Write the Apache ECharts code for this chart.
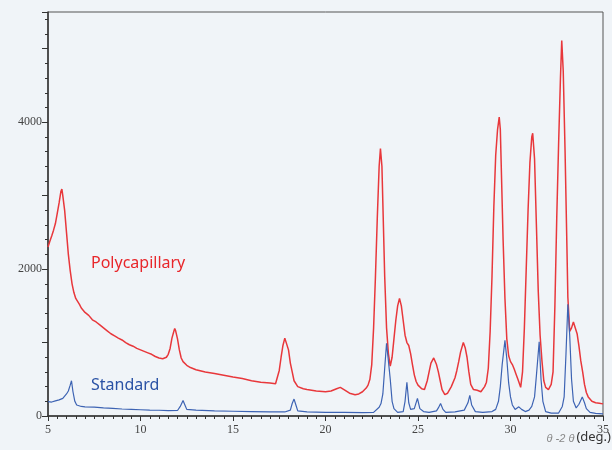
<!DOCTYPE html>
<html>
<head>
<meta charset="utf-8">
<script src="https://cdn.jsdelivr.net/npm/echarts@6/dist/echarts.min.js"></script>
<style>
  html, body { margin: 0; padding: 0; background: #f0f4f8; }
  #chart { width: 612px; height: 450px; }
</style>
</head>
<body>
<div id="chart"></div>
<script>
// 2theta (deg) / counts
var polyAngle = [5.0, 5.1, 5.2, 5.3, 5.4, 5.5, 5.6, 5.7, 5.75, 5.8, 5.9, 6.0, 6.1, 6.2, 6.3, 6.4, 6.5, 6.6, 6.7, 6.8, 6.9,
  7.0, 7.2, 7.4, 7.6, 7.8, 8.0, 8.2, 8.4, 8.6, 8.8, 9.0, 9.2, 9.4, 9.6, 9.8, 10.0, 10.2, 10.4, 10.6, 10.8, 11.0, 11.2,
  11.4, 11.5, 11.6, 11.7, 11.8, 11.85, 11.9, 12.0, 12.1, 12.2, 12.3, 12.5, 12.7, 13.0, 13.5, 14.0, 14.5, 15.0, 15.5,
  16.0, 16.5, 17.0, 17.3, 17.5, 17.6, 17.7, 17.8, 17.85, 17.9, 18.0, 18.1, 18.2, 18.3, 18.5, 18.8, 19.0, 19.5, 20.0,
  20.3, 20.6, 20.8, 21.0, 21.3, 21.6, 21.8, 22.0, 22.2, 22.3, 22.4, 22.5, 22.6, 22.7, 22.8, 22.9, 22.97, 23.05, 23.1,
  23.2, 23.3, 23.4, 23.5, 23.6, 23.7, 23.8, 23.9, 24.0, 24.1, 24.2, 24.3, 24.4, 24.5, 24.6, 24.7, 24.8, 24.9, 25.0,
  25.2, 25.35, 25.5, 25.6, 25.7, 25.85, 26.0, 26.1, 26.2, 26.3, 26.45, 26.6, 26.8, 27.0, 27.1, 27.2, 27.3, 27.45,
  27.55, 27.65, 27.75, 27.85, 28.0, 28.2, 28.4, 28.6, 28.7, 28.8, 28.9, 29.0, 29.1, 29.2, 29.3, 29.39, 29.45, 29.5,
  29.6, 29.7, 29.8, 29.9, 30.0, 30.1, 30.2, 30.3, 30.4, 30.55, 30.65, 30.75, 30.85, 30.95, 31.05, 31.15, 31.2, 31.3,
  31.4, 31.5, 31.6, 31.7, 31.8, 31.9, 32.05, 32.2, 32.3, 32.4, 32.5, 32.6, 32.7, 32.77, 32.85, 32.95, 33.05, 33.1,
  33.2, 33.3, 33.4, 33.5, 33.6, 33.7, 33.8, 33.9, 34.0, 34.1, 34.2, 34.4, 34.6, 34.8, 35.0];
var polyCounts = [2300, 2380, 2450, 2530, 2620, 2760, 2900, 3060, 3090, 3000, 2800, 2500, 2200, 1980, 1800, 1680, 1600, 1560, 1520, 1470, 1440,
  1410, 1370, 1310, 1280, 1240, 1200, 1160, 1120, 1090, 1060, 1035, 1000, 970, 950, 920, 900, 880, 860, 840, 810, 790, 780,
  800, 840, 920, 1060, 1150, 1190, 1160, 1050, 900, 790, 740, 690, 660, 630, 600, 580, 555, 530, 510,
  480, 460, 450, 440, 620, 800, 960, 1060, 1080, 1040, 900, 720, 600, 480, 400, 370, 360, 340, 330,
  340, 370, 390, 360, 310, 290, 300, 330, 380, 420, 500, 700, 1200, 1900, 2700, 3400, 3640, 3400, 2900,
  1900, 1200, 850, 680, 800, 1050, 1300, 1500, 1600, 1500, 1300, 1100, 1000, 960, 850, 700, 560, 470, 420,
  370, 360, 480, 600, 720, 790, 700, 600, 480, 360, 290, 310, 400, 520, 620, 740, 870, 1000,
  930, 800, 600, 430, 360, 350, 330, 400, 460, 650, 1150, 1900, 2850, 3550, 3900, 4070, 3900, 3400,
  2400, 1600, 1050, 820, 740, 700, 640, 570, 500, 390, 600, 1200, 2000, 2800, 3450, 3800, 3850, 3500,
  2600, 1700, 1100, 750, 480, 390, 360, 430, 600, 1500, 2700, 3700, 4600, 5110, 4700, 3600, 2300, 1620,
  1150, 1200, 1280, 1260, 1120, 950, 750, 600, 430, 320, 260, 200, 180, 175, 165];

var stdAngle = [5.0, 5.2, 5.4, 5.6, 5.8, 5.9, 6.0, 6.1, 6.2, 6.27, 6.35, 6.45, 6.55, 6.8, 7.0, 7.5, 8.0, 8.5, 9.0, 9.5,
  10.0, 10.5, 11.0, 11.5, 12.0, 12.15, 12.3, 12.4, 12.5, 13.0, 14.0, 15.0, 16.0, 17.0, 17.8, 18.1, 18.2, 18.3, 18.4,
  18.5, 19.0, 20.0, 21.0, 22.0, 22.6, 22.9, 23.0, 23.1, 23.2, 23.3, 23.4, 23.5, 23.6, 23.7, 23.9, 24.2, 24.3, 24.4,
  24.5, 24.6, 24.8, 24.97, 25.1, 25.3, 25.6, 26.0, 26.1, 26.22, 26.35, 26.5, 27.0, 27.5, 27.7, 27.8, 27.9, 28.1, 28.5,
  29.0, 29.2, 29.35, 29.45, 29.55, 29.7, 29.8, 29.9, 30.0, 30.1, 30.25, 30.45, 30.6, 30.8, 31.0, 31.15, 31.3, 31.4,
  31.55, 31.65, 31.75, 31.9, 32.2, 32.6, 32.8, 32.9, 33.0, 33.1, 33.2, 33.3, 33.4, 33.55, 33.7, 33.88, 34.0, 34.1,
  34.3, 34.6, 35.0];
var stdCounts = [195, 190, 205, 220, 240, 270, 300, 340, 420, 480, 330, 200, 150, 130, 125, 120, 110, 105, 95, 90,
  85, 80, 78, 72, 75, 130, 210, 150, 90, 80, 70, 65, 60, 55, 55, 80, 170, 230, 150,
  70, 55, 50, 50, 45, 50, 120, 170, 300, 650, 990, 750, 500, 200, 100, 50, 60, 200, 460,
  180, 90, 100, 240, 100, 60, 50, 70, 110, 170, 90, 50, 55, 80, 180, 280, 150, 60, 50,
  60, 90, 200, 400, 700, 1030, 780, 450, 260, 150, 90, 125, 90, 60, 80, 130, 260, 550,
  1010, 500, 200, 60, 40, 40, 130, 260, 850, 1520, 1100, 500, 200, 110, 160, 260, 180, 100,
  50, 35, 30];

function zip(xs, ys) {
  return xs.map(function (x, i) { return [x, ys[i]]; });
}

var chart = echarts.init(document.getElementById('chart'));
chart.setOption({
  backgroundColor: '#f0f4f8',
  animation: false,
  grid: { left: 48, right: 5, top: 12, bottom: 34, show: true, borderColor: '#555', borderWidth: 1 },
  xAxis: {
    type: 'value', min: 5, max: 35, interval: 5,
    axisLine: { show: true, lineStyle: { color: '#333', width: 1.5 } },
    axisTick: { show: true, length: 5, lineStyle: { color: '#333' } },
    minorTick: { show: true, splitNumber: 10, length: 3, lineStyle: { color: '#333' } },
    axisLabel: { color: '#444', fontSize: 12, fontFamily: 'Liberation Sans Narrow', margin: 8 },
    splitLine: { show: false }
  },
  yAxis: {
    type: 'value', min: 0, max: 5500, interval: 1000,
    axisLine: { show: true, lineStyle: { color: '#333', width: 1.5 } },
    axisTick: { show: true, length: 6, lineStyle: { color: '#333' } },
    minorTick: { show: true, splitNumber: 5, length: 3, lineStyle: { color: '#333' } },
    axisLabel: {
      color: '#444', fontSize: 12, fontFamily: 'Liberation Sans Narrow', margin: 6,
      formatter: function (v) { return v % 2000 === 0 ? v : ''; }
    },
    splitLine: { show: false }
  },
  series: [
    {
      name: 'Polycapillary', type: 'line', showSymbol: false,
      data: zip(polyAngle, polyCounts),
      lineStyle: { color: '#e8373b', width: 1.5 }
    },
    {
      name: 'Standard', type: 'line', showSymbol: false,
      data: zip(stdAngle, stdCounts),
      lineStyle: { color: '#3d63b3', width: 1.2 }
    }
  ],
  graphic: [
    { type: 'text', left: 91, top: 255, style: { text: 'Polycapillary', fill: '#e8262a', font: '16px "Noto Sans"' } },
    { type: 'text', left: 91, top: 377, style: { text: 'Standard', fill: '#2a52a5', font: '16px "Noto Sans"' } },
    { type: 'text', right: 1, top: 431, style: {
      text: '{t|θ -2 θ}{d|(deg.)}',
      rich: {
        t: { fill: '#888', font: 'italic 11px "Liberation Sans"', padding: [2, 2, 0, 0] },
        d: { fill: '#333', font: '13px "Noto Sans"' }
      }
    } }
  ]
});
</script>
</body>
</html>
